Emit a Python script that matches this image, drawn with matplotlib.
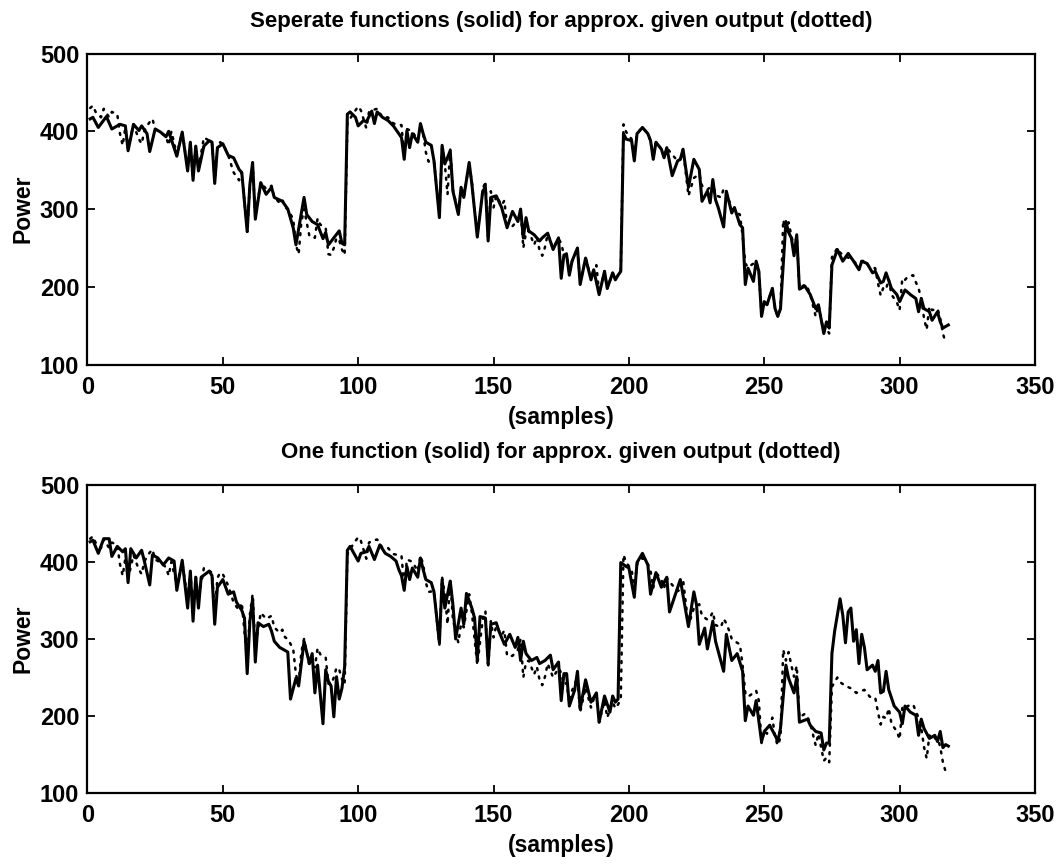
import matplotlib
matplotlib.use('agg')
import matplotlib.pyplot as plt

# separate functions fit (top plot, solid)
sep_x = [1, 2, 4, 7, 9, 12, 14, 15, 17, 19, 20, 22, 23, 25, 27, 29, 30, 33, 35, 37,
         38, 39, 40, 41, 43, 45, 46, 47, 48, 50, 52, 54, 56, 57, 59, 60, 61, 62, 64, 66,
         68, 69, 72, 74, 76, 77, 80, 81, 83, 85, 87, 88, 89, 91, 93, 94, 95, 96, 97, 99,
         100, 102, 103, 105, 106, 107, 109, 111, 113, 115, 116, 117, 118, 119, 120, 122, 123, 124, 125, 127,
         128, 130, 131, 132, 134, 135, 137, 138, 139, 141, 142, 144, 146, 147, 148, 149, 151, 153, 155, 157,
         159, 160, 161, 162, 163, 165, 167, 168, 170, 172, 174, 175, 176, 177, 178, 179, 181, 182, 184, 186,
         187, 189, 191, 192, 194, 195, 196, 197, 198, 199, 201, 202, 203, 205, 207, 208, 209, 210, 212, 213,
         214, 216, 218, 219, 220, 222, 224, 226, 227, 229, 230, 231, 232, 233, 235, 236, 238, 239, 241, 242,
         243, 244, 246, 247, 248, 249, 250, 251, 253, 254, 255, 256, 258, 259, 260, 261, 262, 263, 265, 267,
         269, 270, 272, 273, 274, 275, 277, 279, 281, 283, 285, 286, 288, 290, 291, 293, 294, 295, 297, 299,
         300, 302, 304, 306, 307, 308, 309, 311, 312, 314, 315, 316, 318]
sep_y = [416, 418, 405, 419, 403, 409, 407, 375, 409, 401, 407, 397, 374, 403, 399, 393, 400, 368, 399, 349,
         386, 337, 381, 349, 381, 388, 386, 333, 379, 384, 369, 366, 351, 347, 271, 332, 360, 287, 334, 319,
         328, 315, 310, 300, 276, 254, 315, 293, 284, 280, 262, 270, 254, 263, 272, 256, 254, 422, 425, 418,
         407, 414, 412, 426, 410, 425, 418, 414, 407, 397, 392, 364, 401, 379, 397, 386, 410, 397, 386, 382,
         362, 289, 382, 358, 375, 323, 293, 328, 315, 360, 332, 264, 323, 328, 259, 315, 317, 302, 276, 297,
         284, 300, 263, 289, 272, 267, 259, 263, 269, 248, 263, 211, 241, 241, 215, 233, 250, 203, 237, 209,
         222, 190, 220, 198, 218, 209, 215, 220, 397, 390, 388, 362, 397, 405, 397, 388, 364, 386, 377, 366,
         379, 343, 362, 364, 377, 328, 364, 351, 310, 323, 308, 338, 312, 302, 277, 323, 295, 302, 280, 276,
         203, 224, 207, 233, 220, 162, 181, 177, 198, 172, 162, 172, 284, 270, 263, 240, 267, 197, 201, 190,
         172, 177, 140, 155, 147, 228, 248, 233, 243, 233, 222, 233, 230, 218, 220, 205, 207, 218, 198, 190,
         181, 196, 190, 185, 168, 185, 172, 168, 157, 168, 155, 147, 151]

# one function fit (bottom plot, solid)
one_x = [1, 2, 4, 6, 8, 9, 11, 13, 14, 15, 16, 18, 20, 21, 23, 24, 26, 28, 30, 32,
         33, 35, 37, 38, 39, 40, 41, 42, 45, 46, 47, 48, 50, 52, 54, 55, 57, 58, 59, 60,
         61, 62, 63, 65, 67, 68, 69, 71, 74, 75, 77, 78, 80, 82, 83, 84, 85, 87, 88, 89,
         90, 91, 92, 93, 94, 95, 96, 97, 100, 101, 103, 104, 106, 108, 110, 112, 114, 115, 116, 117,
         118, 119, 120, 122, 123, 124, 125, 127, 128, 130, 131, 132, 134, 135, 136, 138, 139, 140, 142, 143,
         144, 145, 147, 148, 149, 151, 152, 154, 156, 158, 159, 160, 161, 162, 164, 166, 167, 169, 171, 172,
         174, 175, 176, 177, 178, 180, 181, 182, 184, 186, 188, 189, 191, 193, 194, 195, 196, 197, 199, 200,
         202, 203, 205, 207, 208, 210, 212, 214, 215, 217, 219, 222, 224, 225, 226, 228, 229, 231, 232, 235,
         236, 238, 240, 242, 243, 244, 246, 247, 249, 250, 252, 254, 255, 256, 258, 259, 261, 262, 263, 266,
         267, 269, 271, 272, 273, 274, 275, 276, 278, 279, 280, 281, 282, 283, 284, 285, 286, 287, 288, 290,
         291, 292, 293, 294, 295, 296, 298, 300, 301, 302, 304, 306, 307, 308, 309, 311, 313, 314, 315, 316,
         317, 318]
one_y = [426, 428, 411, 430, 430, 407, 420, 413, 417, 373, 417, 405, 415, 401, 370, 409, 405, 396, 405, 401,
         363, 402, 340, 388, 323, 380, 340, 380, 388, 382, 319, 367, 377, 358, 361, 348, 337, 327, 255, 323,
         352, 270, 321, 316, 319, 310, 297, 289, 283, 222, 249, 239, 297, 268, 281, 230, 266, 190, 260, 245,
         239, 199, 251, 222, 236, 264, 415, 420, 401, 411, 413, 420, 403, 422, 411, 407, 401, 390, 382, 363,
         394, 377, 392, 380, 405, 390, 377, 373, 361, 295, 377, 340, 375, 344, 300, 340, 319, 359, 340, 327,
         272, 329, 327, 268, 319, 321, 310, 293, 306, 289, 302, 272, 297, 281, 272, 276, 268, 272, 279, 260,
         270, 220, 255, 255, 213, 234, 258, 209, 247, 218, 230, 192, 226, 205, 226, 218, 222, 399, 394, 392,
         354, 399, 411, 396, 358, 386, 367, 380, 335, 356, 377, 316, 361, 344, 293, 314, 287, 323, 297, 258,
         306, 272, 281, 258, 194, 213, 201, 220, 167, 180, 188, 175, 167, 184, 266, 249, 230, 251, 192, 196,
         188, 180, 178, 156, 165, 165, 281, 310, 352, 331, 295, 335, 340, 297, 312, 268, 306, 289, 260, 266,
         258, 272, 230, 232, 258, 234, 213, 205, 190, 213, 205, 201, 175, 196, 184, 171, 175, 167, 180, 159,
         163, 161]

# given output (dotted, same in both plots)
given_x = [1, 2, 3, 5, 6, 8, 9, 11, 12, 13, 14, 15, 17, 18, 19, 20, 21, 22, 23, 24,
           25, 27, 29, 30, 31, 33, 35, 37, 38, 39, 40, 41, 43, 45, 46, 47, 48, 49, 50, 52,
           54, 56, 57, 59, 60, 61, 62, 64, 66, 68, 69, 71, 72, 73, 74, 76, 77, 78, 79, 80,
           82, 84, 85, 86, 88, 89, 90, 91, 92, 93, 94, 95, 96, 98, 100, 101, 103, 104, 105, 107,
           109, 111, 113, 116, 117, 118, 120, 122, 123, 124, 125, 126, 128, 130, 131, 132, 133, 134, 135, 137,
           138, 139, 141, 142, 144, 146, 147, 148, 149, 150, 151, 153, 154, 155, 157, 159, 160, 161, 162, 163,
           165, 166, 167, 168, 169, 170, 172, 174, 175, 176, 177, 178, 179, 181, 182, 184, 186, 187, 188, 189,
           191, 192, 194, 195, 196, 197, 198, 199, 201, 202, 203, 205, 207, 208, 209, 210, 212, 213, 214, 216,
           218, 219, 220, 222, 224, 226, 227, 229, 230, 231, 232, 234, 235, 236, 237, 238, 240, 241, 242, 243,
           244, 246, 247, 248, 249, 250, 251, 253, 254, 255, 256, 257, 258, 259, 260, 261, 262, 263, 265, 266,
           267, 269, 270, 272, 273, 274, 275, 277, 278, 280, 282, 284, 287, 289, 291, 292, 293, 294, 295, 296,
           297, 299, 300, 301, 302, 303, 305, 306, 307, 308, 309, 310, 311, 312, 314, 315, 316, 317]
given_y = [430, 433, 425, 418, 429, 418, 425, 422, 397, 382, 405, 378, 409, 399, 390, 384, 400, 407, 412, 416,
           403, 399, 393, 382, 400, 370, 399, 352, 386, 340, 381, 352, 392, 388, 386, 336, 379, 386, 384, 369,
           347, 337, 347, 271, 332, 358, 290, 334, 326, 330, 315, 308, 312, 302, 300, 287, 254, 242, 283, 300,
           265, 263, 288, 280, 276, 242, 241, 250, 263, 260, 248, 241, 410, 422, 432, 427, 404, 425, 427, 429,
           418, 418, 410, 408, 368, 403, 400, 388, 408, 397, 373, 361, 362, 292, 380, 358, 319, 377, 325, 295,
           320, 315, 358, 334, 266, 325, 336, 262, 323, 302, 317, 305, 311, 278, 278, 286, 300, 250, 270, 272,
           254, 264, 247, 240, 251, 268, 250, 262, 256, 241, 243, 217, 233, 250, 205, 237, 211, 222, 228, 192,
           220, 198, 218, 210, 215, 222, 409, 399, 390, 364, 397, 405, 397, 388, 366, 386, 377, 366, 379, 370,
           362, 364, 377, 317, 340, 345, 330, 325, 328, 335, 318, 315, 326, 320, 311, 300, 295, 293, 266, 230,
           225, 230, 233, 220, 165, 181, 177, 198, 172, 162, 172, 286, 272, 283, 266, 251, 265, 198, 203, 199,
           190, 162, 177, 142, 146, 140, 238, 250, 244, 239, 236, 230, 234, 225, 224, 205, 189, 199, 197, 210,
           190, 180, 170, 211, 209, 213, 215, 206, 198, 185, 160, 145, 175, 170, 172, 160, 140, 128]

titles = ['Seperate functions (solid) for approx. given output (dotted)',
          'One function (solid) for approx. given output (dotted)']
fits = [(sep_x, sep_y), (one_x, one_y)]

plt.rcParams['font.family'] = ['Liberation Sans', 'DejaVu Sans']
plt.rcParams['font.weight'] = 'bold'

fig = plt.figure(figsize=(10.59, 8.64), dpi=100)
axes_pos = [[0.0826, 0.578, 0.8947, 0.360],
            [0.0826, 0.082, 0.8947, 0.357]]

for pos, title, (fx, fy) in zip(axes_pos, titles, fits):
    ax = fig.add_axes(pos)
    # dotted given output first, fitted solid on top
    ax.plot(given_x, given_y, color='black', linestyle=(0, (0.8, 2.6)),
            linewidth=1.8, dash_capstyle='round')
    ax.plot(fx, fy, color='black', linestyle='-', linewidth=2.2)
    ax.set_xlim(0, 350)
    ax.set_ylim(100, 500)
    ax.set_xticks(range(0, 351, 50))
    ax.set_yticks(range(100, 501, 100))
    ax.tick_params(direction='in', length=6, width=1.3, top=True, right=True,
                   labelsize=17, pad=8)
    ax.tick_params(axis='y', pad=6)
    for lab in ax.get_xticklabels() + ax.get_yticklabels():
        lab.set_fontweight('bold')
    for sp in ax.spines.values():
        sp.set_linewidth(1.6)
    ax.set_title(title, fontsize=16, fontweight='bold', pad=19)
    ax.set_xlabel('(samples)', fontsize=16.5, fontweight='bold', labelpad=5)
    ax.set_ylabel('Power', fontsize=16.5, fontweight='bold', labelpad=4)

plt.savefig('out.png', dpi=100)
